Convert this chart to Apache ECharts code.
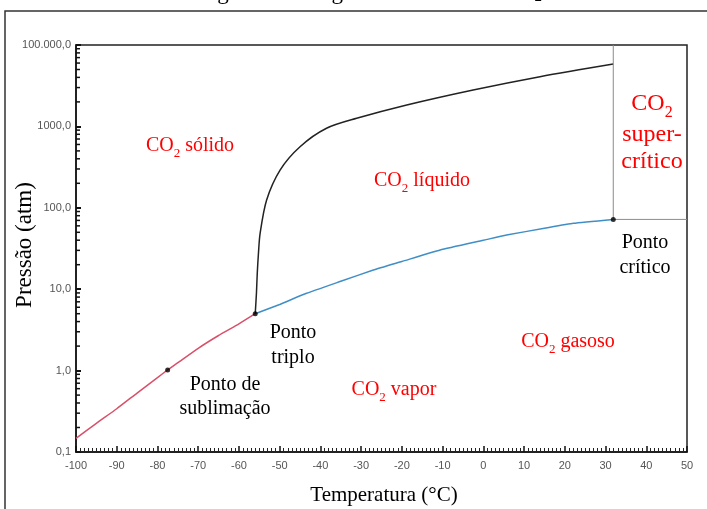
<!DOCTYPE html>
<html>
<head>
<meta charset="utf-8">
<script src="https://cdn.jsdelivr.net/npm/echarts@6/dist/echarts.min.js"></script>
<style>
  html, body { margin: 0; padding: 0; background: #fff; }
  #chart { width: 707px; height: 509px; }
</style>
</head>
<body>
<div id="chart"></div>
<script>
// Phase diagram of CO2: temperature (°C) against pressure (atm, log scale)

// Axis ticks
const yTickValues = [0.1, 1, 10, 100, 1000, 10000];
const yTickLabels = ['0,1', '1,0', '10,0', '100,0', '1000,0', '100.000,0'];

// Sublimation curve (solid / vapour)
const sublimationT = [-100, -95, -90, -85, -80, -77.5, -75, -70, -65, -60, -56];
const sublimationP = [0.147, 0.225, 0.34, 0.53, 0.82, 1.02, 1.25, 1.88, 2.7, 3.75, 5.0];

// Vapour pressure curve (liquid / gas), triple point to critical point
const vaporT = [-56, -50, -43.4, -35, -27, -20, -10.6, 0, 5.7, 15, 22.1, 31.9];
const vaporP = [5.0, 6.5, 8.9, 12.5, 17.2, 21.9, 30.3, 39.9, 46.3, 56.0, 64.5, 72];

// Melting curve (solid / liquid)
const fusionT = [-56, -55.7, -55.5, -55.2, -54.8, -53.2, -49.9, -45, -38.5, -31.1, -18.8, -2.5, 13.9, 31.9];
const fusionP = [5.0, 9.0, 15.7, 28, 48.6, 125, 291, 563, 948, 1257, 1832, 2800, 4080, 5840];

// Marked points
const triplePoint = [-56, 5.0];
const sublimationPoint = [-77.5, 1.02];
const criticalPoint = [31.9, 72];

const zip = (xs, ys) => xs.map((x, i) => [x, ys[i]]);

// Minor ticks of the log axis (2..9 in every decade)
const yMinorTicks = [];
yTickValues.slice(0, -1).forEach(d => {
  for (let k = 2; k <= 9; k++) yMinorTicks.push([-100, +(d * k).toPrecision(3)]);
});

const SERIF = "'Liberation Serif', 'Times New Roman', serif";
const SANS = "'Liberation Sans', Arial, sans-serif";

function co2Text(rest, x, y, size, color) {
  const sub = Math.round(size * 0.65);
  const lh = size + 4;
  return {
    type: 'text', x: x, y: y, z: 50,
    style: {
      text: '{a|CO}{s|2}{a|' + rest + '}',
      align: 'center', verticalAlign: 'middle',
      rich: {
        a: { fontFamily: SERIF, fontSize: size, fill: color, lineHeight: lh, verticalAlign: 'top' },
        s: { fontFamily: SERIF, fontSize: sub, fill: color, lineHeight: sub, verticalAlign: 'top',
             padding: [Math.round(size * 0.55), 0, 0, 0] }
      }
    }
  };
}

function plainText(str, x, y, size, color, rotation) {
  return {
    type: 'text', x: x, y: y, z: 50, rotation: rotation || 0,
    style: { text: str, fontFamily: SERIF, fontSize: size, fill: color, align: 'center', verticalAlign: 'middle' }
  };
}

const RED = '#ff0000';

const chart = echarts.init(document.getElementById('chart'), null, { renderer: 'canvas' });

chart.setOption({
  backgroundColor: '#fff',
  animation: false,
  grid: {
    left: 76, right: 20, top: 45, bottom: 57,
    containLabel: false, outerBoundsMode: 'none',
    show: true, borderColor: '#222', borderWidth: 1.5, backgroundColor: 'transparent'
  },
  xAxis: {
    type: 'value', min: -100, max: 50, interval: 10,
    axisLine: { onZero: false, lineStyle: { color: '#111', width: 1.5 } },
    axisTick: { inside: true, length: 6, lineStyle: { color: '#111', width: 1.5 } },
    minorTick: { show: true, splitNumber: 10, length: 4, lineStyle: { color: '#222', width: 1 } },
    axisLabel: { color: '#555', fontFamily: SANS, fontSize: 11, margin: 8 },
    splitLine: { show: false }
  },
  yAxis: {
    type: 'log', logBase: 10, min: 0.1, max: 10000,
    axisLine: { show: true, onZero: false, lineStyle: { color: '#111', width: 1.5 } },
    axisTick: { show: true, inside: true, length: 5, lineStyle: { color: '#111', width: 2 } },
    axisLabel: {
      color: '#555', fontFamily: SANS, fontSize: 11, margin: 5,
      formatter: v => {
        const i = yTickValues.findIndex(t => Math.abs(Math.log10(t) - Math.log10(v)) < 1e-6);
        return i >= 0 ? yTickLabels[i] : '';
      }
    },
    splitLine: { show: false }
  },
  series: [
    {
      type: 'custom', silent: true, clip: false, z: 5,
      data: yMinorTicks,
      renderItem: (params, api) => {
        const p = api.coord([api.value(0), api.value(1)]);
        return { type: 'line', shape: { x1: p[0], y1: p[1], x2: p[0] + 4, y2: p[1] },
                 style: { stroke: '#111', lineWidth: 1.5 } };
      }
    },
    {
      type: 'line', data: zip(sublimationT, sublimationP), smooth: 0.15,
      showSymbol: false, lineStyle: { color: '#d9506a', width: 1.5 }, silent: true
    },
    {
      type: 'line', data: zip(vaporT, vaporP), smooth: 0.15,
      showSymbol: false, lineStyle: { color: '#3f8fc6', width: 1.5 }, silent: true
    },
    {
      type: 'line', data: zip(fusionT, fusionP), smooth: 0.3,
      showSymbol: false, lineStyle: { color: '#222', width: 1.5 }, silent: true
    },
    {
      // supercritical region bounds
      type: 'line', data: [[criticalPoint[0], 10000], criticalPoint, [50, criticalPoint[1]]],
      showSymbol: false, lineStyle: { color: '#8c8c8c', width: 1 }, silent: true
    },
    {
      type: 'scatter', data: [triplePoint, sublimationPoint, criticalPoint],
      symbolSize: 5, itemStyle: { color: '#000' }, z: 10, silent: true
    }
  ],
  graphic: [
    {
      type: 'rect', z: 1, silent: true,
      shape: { x: 5, y: 11, width: 712, height: 512 },
      style: { fill: 'none', stroke: '#333', lineWidth: 1.5 }
    },
    {
      type: 'text', x: 370, y: 5, z: 50,
      style: {
        text: '{a|Figura 1 – Diagrama de fases do CO}{s|2}',
        align: 'center', verticalAlign: 'bottom',
        rich: {
          a: { fontFamily: SERIF, fontSize: 23, fill: '#000' },
          s: { fontFamily: SERIF, fontSize: 15, fill: '#000', padding: [10, 0, 0, 0] }
        }
      }
    },
    plainText('Temperatura (°C)', 384, 495, 21, '#000'),
    plainText('Pressão (atm)', 25, 245, 23, '#000', Math.PI / 2),
    co2Text(' sólido', 190, 148, 20, RED),
    co2Text(' líquido', 422, 183, 20, RED),
    co2Text(' vapor', 394, 392, 20, RED),
    co2Text(' gasoso', 568, 344, 20, RED),
    co2Text('', 652, 106, 24, RED),
    plainText('super-', 652, 135, 24, RED),
    plainText('crítico', 652, 162, 24, RED),
    plainText('Ponto', 293, 333, 20, '#000'),
    plainText('triplo', 293, 358, 20, '#000'),
    plainText('Ponto de', 225, 385, 20, '#000'),
    plainText('sublimação', 225, 409, 20, '#000'),
    plainText('Ponto', 645, 243, 20, '#000'),
    plainText('crítico', 645, 268, 20, '#000')
  ]
});
</script>
</body>
</html>
